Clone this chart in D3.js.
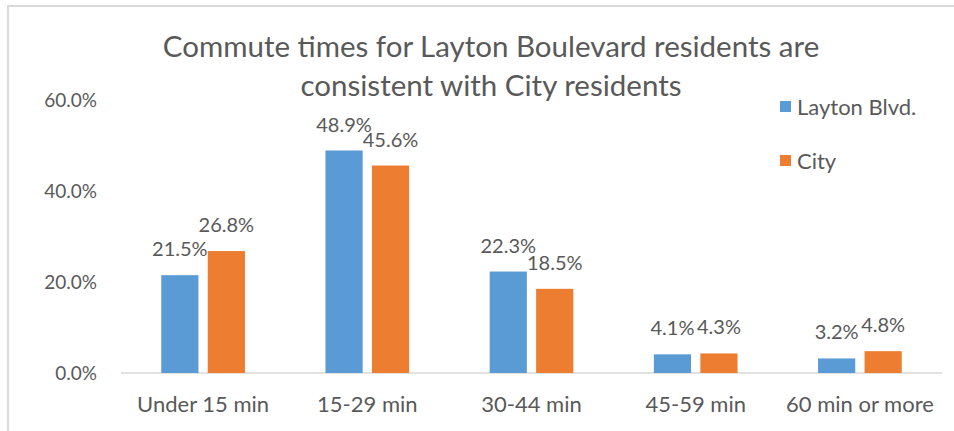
<!DOCTYPE html>
<html lang="en">
<head>
  <meta charset="utf-8">
  <script src="https://d3js.org/d3.v7.min.js"></script>
  <style>
    body { margin: 0; background: #fff; }
    text { font-family: Lato, "Open Sans", sans-serif; fill: #595959; }
  </style>
</head>
<body>
  <div id="chart"></div>
  <script>
    var categories = ["Under 15 min", "15-29 min", "30-44 min", "45-59 min", "60 min or more"];
    var seriesNames = ["Layton Blvd.", "City"];
    var laytonValues = [21.5, 48.9, 22.3, 4.1, 3.2];
    var cityValues = [26.8, 45.6, 18.5, 4.3, 4.8];
    var yTicks = [0, 20, 40, 60];
    var titleLines = ["Commute times for Layton Boulevard residents are", "consistent with City residents"];

    var width = 954;
    var height = 431;
    var margin = { top: 100, left: 121, right: 12, bottom: 58 };
    var colors = ["#5B9BD5", "#ED7D31"];

    var svg = d3.select('#chart')
      .append('svg')
      .attr('width', width)
      .attr('height', height);

    // chart area border (only top and left edges show)
    svg.append('path')
      .attr('d', 'M8,' + height + ' L8,6 L' + width + ',6')
      .attr('fill', 'none')
      .attr('stroke', '#D9D9D9')
      .attr('stroke-width', 2);

    var x = d3.scaleBand()
      .domain(categories)
      .range([margin.left, width - margin.right]);

    var y = d3.scaleLinear()
      .domain([0, 60])
      .range([373, margin.top]);

    var x1 = d3.scaleBand()
      .domain(seriesNames)
      .range([0, x.bandwidth()])
      .paddingInner(0.2)
      .paddingOuter(0.866);

    var table = categories.map(function (c, i) {
      return { cat: c, values: [laytonValues[i], cityValues[i]] };
    });

    // y labels
    svg.selectAll('.ytick')
      .data(yTicks)
      .enter()
      .append('text')
      .attr('class', 'ytick')
      .attr('x', 97)
      .attr('y', function (d) { return y(d); })
      .attr('dy', '0.35em')
      .attr('text-anchor', 'end')
      .style('font-size', '19px')
      .text(function (d) { return d.toFixed(1) + '%'; });

    // baseline
    svg.append('line')
      .attr('x1', x.range()[0])
      .attr('x2', x.range()[1])
      .attr('y1', y(0))
      .attr('y2', y(0))
      .attr('stroke', '#D9D9D9')
      .attr('stroke-width', 1.5);

    var groups = svg.selectAll('.group')
      .data(table)
      .enter()
      .append('g')
      .attr('class', 'group')
      .attr('transform', function (d) { return 'translate(' + x(d.cat) + ',0)'; });

    var bars = groups.selectAll('g.bar')
      .data(function (d) {
        return d.values.map(function (v, i) { return { name: seriesNames[i], value: v, i: i }; });
      })
      .enter()
      .append('g')
      .attr('class', 'bar');

    bars.append('rect')
      .attr('x', function (d) { return x1(d.name); })
      .attr('width', x1.bandwidth())
      .attr('y', function (d) { return y(d.value); })
      .attr('height', function (d) { return y(0) - y(d.value); })
      .attr('fill', function (d) { return colors[d.i]; });

    bars.append('text')
      .attr('x', function (d) { return x1(d.name) + x1.bandwidth() / 2; })
      .attr('y', function (d) { return y(d.value) - 19; })
      .attr('text-anchor', 'middle')
      .style('font-size', '20px')
      .text(function (d) { return d.value.toFixed(1) + '%'; });

    // category labels
    svg.selectAll('.xlabel')
      .data(categories)
      .enter()
      .append('text')
      .attr('class', 'xlabel')
      .attr('x', function (d) { return x(d) + x.bandwidth() / 2; })
      .attr('y', 412)
      .attr('text-anchor', 'middle')
      .style('font-size', '22px')
      .text(function (d) { return d; });

    // title
    svg.selectAll('.title')
      .data(titleLines)
      .enter()
      .append('text')
      .attr('class', 'title')
      .attr('x', 491)
      .attr('y', function (d, i) { return 57 + i * 39; })
      .attr('text-anchor', 'middle')
      .style('font-size', '29.5px')
      .text(function (d) { return d; });

    // legend
    var legend = svg.selectAll('.legend')
      .data(seriesNames)
      .enter()
      .append('g')
      .attr('class', 'legend')
      .attr('transform', function (d, i) { return 'translate(780,' + (101 + i * 54) + ')'; });

    legend.append('rect')
      .attr('width', 11)
      .attr('height', 11)
      .attr('fill', function (d, i) { return colors[i]; });

    legend.append('text')
      .attr('x', 17)
      .attr('y', 6)
      .attr('dy', '0.35em')
      .style('font-size', '22px')
      .text(function (d) { return d; });
  </script>
</body>
</html>
